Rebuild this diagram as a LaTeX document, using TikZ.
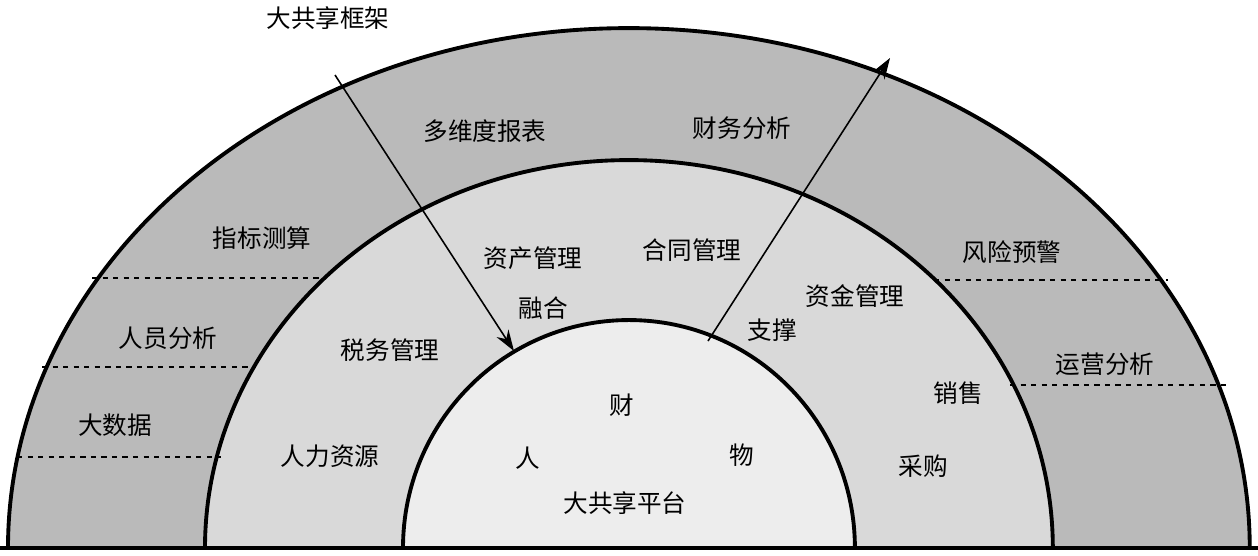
\documentclass[tikz,border=0pt]{standalone}
\usepackage{fontspec}
\setmainfont{Noto Sans CJK SC}
\usetikzlibrary{arrows.meta}

\tikzset{
  ring/.style={draw=black,line width=2.2pt},
  sep/.style={dashed,line width=0.8pt},
  flow/.style={-{Stealth[length=12pt,width=8pt]},line width=0.9pt},
  lbl/.style={font=\fontsize{14pt}{16pt}\selectfont,inner sep=0pt}
}

\begin{document}
\begin{tikzpicture}[x=0.02cm,y=-0.02cm]
  \useasboundingbox (0,0) rectangle (1258,555);
  % rings
  \filldraw[ring,fill=black!27] (8,548) arc[start angle=180,end angle=0,x radius=12.42cm,y radius=10.4cm] -- cycle;
  \filldraw[ring,fill=black!15] (205,548) arc[start angle=180,end angle=0,x radius=8.48cm,y radius=7.76cm] -- cycle;
  \filldraw[ring,fill=black!7] (403,548) arc[start angle=180,end angle=0,x radius=4.52cm,y radius=4.56cm] -- cycle;
  \draw[line width=2.6pt] (0,548) -- (1258,548);
  % dashed separators
  \coordinate (l1a) at (92,278);  \coordinate (l1b) at (326,278);
  \coordinate (l2a) at (42,367);  \coordinate (l2b) at (256,367);
  \coordinate (l3a) at (17,457);  \coordinate (l3b) at (221,457);
  \coordinate (r1a) at (934,280); \coordinate (r1b) at (1168,280);
  \coordinate (r2a) at (1010,385); \coordinate (r2b) at (1226,385);
  \foreach \a/\b in {l1a/l1b,l2a/l2b,l3a/l3b,r1a/r1b,r2a/r2b}
    \draw[sep] (\a) -- (\b);
  % arrows
  \coordinate (fuseS) at (335,75);
  \coordinate (fuseE) at (514,351);
  \coordinate (propS) at (708,341);
  \coordinate (propE) at (890,58);
  \draw[flow] (fuseS) -- (fuseE);
  \draw[flow] (propS) -- (propE);
  % labels
  \node[lbl] (frame) at (328,18) {大共享框架};
  \node[lbl] (report) at (485,131) {多维度报表};
  \node[lbl] (fin) at (742,128) {财务分析};
  \node[lbl] (index) at (262,238) {指标测算};
  \node[lbl] (asset) at (533,258) {资产管理};
  \node[lbl] (contract) at (692,250) {合同管理};
  \node[lbl] (risk) at (1012,252) {风险预警};
  \node[lbl] (fund) at (855,296) {资金管理};
  \node[lbl] (fuse) at (543,308) {融合};
  \node[lbl] (prop) at (772,330) {支撑};
  \node[lbl] (staff) at (168,338) {人员分析};
  \node[lbl] (tax) at (390,350) {税务管理};
  \node[lbl] (ops) at (1105,364) {运营分析};
  \node[lbl] (sales) at (958,393) {销售};
  \node[lbl] (bigdata) at (115,425) {大数据};
  \node[lbl] (cai) at (622,405) {财};
  \node[lbl] (hr) at (330,456) {人力资源};
  \node[lbl] (ren) at (528,458) {人};
  \node[lbl] (wu) at (742,455) {物};
  \node[lbl] (buy) at (923,466) {采购};
  \node[lbl] (platform) at (625,503) {大共享平台};
\end{tikzpicture}
\end{document}
